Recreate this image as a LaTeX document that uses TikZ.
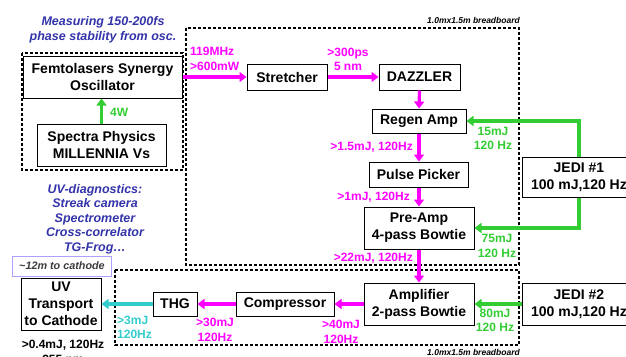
\documentclass[tikz,border=0pt]{standalone}
\usepackage{fontspec}
\setmainfont{Liberation Sans}
\usepackage{xcolor}
\usetikzlibrary{arrows.meta,positioning}
\definecolor{beamMagenta}{RGB}{255,0,255}
\definecolor{pumpGreen}{RGB}{51,204,51}
\definecolor{uvCyan}{RGB}{51,204,204}
\definecolor{noteBlue}{RGB}{51,51,170}
\definecolor{noteLavender}{RGB}{170,160,255}
\definecolor{noteGray}{RGB}{60,60,60}
\begin{document}
\begin{tikzpicture}[x=1pt,y=-1pt,
  optbox/.style={draw, line width=1pt, fill=white, align=center, inner sep=0pt,
    font=\bfseries\fontsize{14}{17}\selectfont},
  beam/.style={line width=3.2pt, -{Triangle[length=7pt,width=10pt]}},
  lbl/.style={font=\bfseries\fontsize{12}{14.5}\selectfont, align=center, inner sep=0pt},
  note/.style={font=\bfseries\itshape\fontsize{12.5}{14.6}\selectfont, text=noteBlue, align=center, inner sep=0pt},
  board/.style={draw, dashed, dash pattern=on 3pt off 2pt, line width=1.6pt},
  boardlbl/.style={font=\bfseries\itshape\fontsize{8.5}{10}\selectfont, inner sep=0pt}]
\useasboundingbox (0,0) rectangle (626,356);

% breadboards and oscillator frame
\draw[board] (22,53) rectangle (183,170);
\draw[board] (186,28) rectangle (519,265);
\draw[board] (115,270) rectangle (519,345);
\node[boardlbl, anchor=east] (boardA) at (520,20) {1.0mx1.5m breadboard};
\node[boardlbl, anchor=east] (boardB) at (520,352) {1.0mx1.5m breadboard};

% components
\node[optbox, minimum width=159, minimum height=42] (osc) at (102.5,77) {Femtolasers Synergy\\Oscillator};
\node[optbox, minimum width=129, minimum height=42] (pump) at (101.5,145) {Spectra Physics\\MILLENNIA Vs};
\node[optbox, minimum width=80, minimum height=26] (str) at (287,77) {Stretcher};
\node[optbox, minimum width=81, minimum height=26] (daz) at (419.5,77) {DAZZLER};
\node[optbox, minimum width=94, minimum height=24] (regen) at (419,121) {Regen Amp};
\node[optbox, minimum width=99, minimum height=25] (picker) at (418.5,174.5) {Pulse Picker};
\node[optbox, minimum width=110, minimum height=42] (preamp) at (419,228) {Pre-Amp\\4-pass Bowtie};
\node[optbox, minimum width=110, minimum height=42] (amp) at (419,304) {Amplifier\\2-pass Bowtie};
\node[optbox, minimum width=114, minimum height=40] (jediA) at (579,177) {JEDI \#1\\100 mJ,120 Hz};
\node[optbox, minimum width=114, minimum height=42] (jediB) at (579,304) {JEDI \#2\\100 mJ,120 Hz};
\node[optbox, minimum width=98, minimum height=24] (comp) at (285,304) {Compressor};
\node[optbox, minimum width=44, minimum height=24] (thg) at (175,304) {THG};
\node[optbox, minimum width=80, minimum height=52] (uv) at (61,304) {UV\\Transport\\to Cathode};

% beams
\draw[beam, beamMagenta] (osc.east) -- (str.west);
\draw[beam, beamMagenta] (str.east) -- (daz.west);
\draw[beam, beamMagenta] (daz.south) -- (regen.north);
\draw[beam, beamMagenta] (regen.south) -- (picker.north -| regen.south);
\draw[beam, beamMagenta] (picker.south -| regen.south) -- (preamp.north -| regen.south);
\draw[beam, beamMagenta] (preamp.south) -- (amp.north);
\draw[beam, beamMagenta] (amp.west) -- (comp.east);
\draw[beam, beamMagenta] (comp.west) -- (thg.east);
\draw[beam, uvCyan] (thg.west) -- (uv.east);
\draw[beam, pumpGreen] (pump.north) -- (pump.north |- osc.south);
\draw[beam, pumpGreen] (jediA.north) |- (regen.east);
\draw[beam, pumpGreen] (jediA.south) |- (preamp.east);
\draw[beam, pumpGreen] (jediB.west) -- (amp.east);

% beam parameters
\node[lbl, text=beamMagenta, anchor=west, align=left] (repRate) at (190,59) {119MHz\\>600mW};
\node[lbl, text=beamMagenta] (chirp) at (348,59.5) {>300ps\\5 nm};
\node[lbl, text=beamMagenta, anchor=east] (regenOut) at (413,147) {>1.5mJ, 120Hz};
\node[lbl, text=beamMagenta, anchor=east] (pickOut) at (410,197) {>1mJ, 120Hz};
\node[lbl, text=beamMagenta, anchor=east] (preOut) at (413,258) {>22mJ, 120Hz};
\node[lbl, text=beamMagenta] (ampOut) at (341,332) {>40mJ\\120Hz};
\node[lbl, text=beamMagenta] (compOut) at (215,330) {>30mJ\\120Hz};
\node[lbl, text=uvCyan, anchor=west, align=left] (thgOut) at (117,327.5) {>3mJ\\120Hz};
\node[lbl, text=pumpGreen, anchor=west] (pumpPow) at (110,112) {4W};
\node[lbl, text=pumpGreen] (pumpA) at (493,138.5) {15mJ\\120 Hz};
\node[lbl, text=pumpGreen] (pumpB) at (497,246) {75mJ\\120 Hz};
\node[lbl, text=pumpGreen] (pumpC) at (495,320.5) {80mJ\\120 Hz};
\node[lbl] (uvOut) at (63,352) {>0.4mJ, 120Hz\\255 nm};

% notes
\node[note] (oscNote) at (103,30) {Measuring 150-200fs\\phase stability from osc.};
\node[note] (uvNote) at (95,219) {UV-diagnostics:\\Streak camera\\Spectrometer\\Cross-correlator\\TG-Frog\dots};
\node[draw=noteLavender, line width=1pt, fill=white, minimum width=99, minimum height=20, inner sep=0pt,
  font=\bfseries\itshape\fontsize{10.8}{12}\selectfont, text=noteGray] (dist) at (62,266) {\textasciitilde12m to cathode};
\end{tikzpicture}
\end{document}
